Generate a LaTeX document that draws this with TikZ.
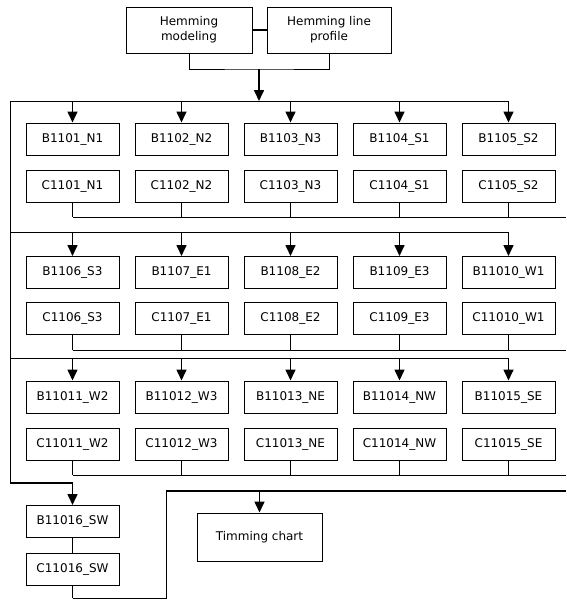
\documentclass[tikz,border=0pt]{standalone}
\usepackage{fontspec}
\setmainfont{DejaVu Sans}
\usetikzlibrary{arrows.meta}
\begin{document}
\begin{tikzpicture}[x=1pt,y=-1pt,
  box/.style={draw, line width=1pt, minimum width=93pt, minimum height=32pt, inner sep=0pt, font=\fontsize{12}{14}\selectfont},
  bigbox/.style={draw, line width=1pt, inner sep=0pt, align=center, font=\fontsize{12}{15}\selectfont},
  wire/.style={line width=1pt},
  arr/.style={line width=1.6pt, -{Triangle[width=10pt,length=11pt]}}]
\useasboundingbox (0,0) rectangle (566,600);
% top boxes
\node[bigbox, minimum width=126pt, minimum height=46pt] (hm) at (189,30) {Hemming\\modeling};
\node[bigbox, minimum width=124pt, minimum height=46pt] (hp) at (329,30) {Hemming line\\profile};
\draw[line width=2.2pt] (hm.east) -- (hp.west);
\coordinate (jt) at (259,69);
\coordinate (d1c) at (259,101);
\draw[wire] (hm.south) |- (jt) -| (hp.south);
\draw[arr] (jt) -- (d1c);
% columns
\foreach \i/\x/\b/\c in {1/72.5/B1101\_N1/C1101\_N1, 2/181.5/B1102\_N2/C1102\_N2, 3/290.5/B1103\_N3/C1103\_N3, 4/399.5/B1104\_S1/C1104\_S1, 5/508.5/B1105\_S2/C1105\_S2}{
  \node[box] (b1\i) at (\x,139) {\b};
  \node[box] (c1\i) at (\x,186) {\c};
}
\foreach \i/\x/\b/\c in {1/72.5/B1106\_S3/C1106\_S3, 2/181.5/B1107\_E1/C1107\_E1, 3/290.5/B1108\_E2/C1108\_E2, 4/399.5/B1109\_E3/C1109\_E3, 5/508.5/B11010\_W1/C11010\_W1}{
  \node[box] (b2\i) at (\x,272.5) {\b};
  \node[box] (c2\i) at (\x,318.5) {\c};
}
\foreach \i/\x/\b/\c in {1/72.5/B11011\_W2/C11011\_W2, 2/181.5/B11012\_W3/C11012\_W3, 3/290.5/B11013\_NE/C11013\_NE, 4/399.5/B11014\_NW/C11014\_NW, 5/508.5/B11015\_SE/C11015\_SE}{
  \node[box] (b3\i) at (\x,397) {\b};
  \node[box] (c3\i) at (\x,444) {\c};
}
\node[box] (b16) at (72.5,521.5) {B11016\_SW};
\node[box] (c16) at (72.5,569) {C11016\_SW};
\node[bigbox, minimum width=125pt, minimum height=48pt] (tc) at (259.5,537) {Timming chart};
% distributor / collector coordinates
\coordinate (L1) at (10,101);
\coordinate (L2) at (10,232);
\coordinate (L3) at (10,358);
\coordinate (L4) at (10,483);
\coordinate (K1) at (566,217);
\coordinate (K2) at (566,350);
\coordinate (K3) at (566,475);
\coordinate (bl) at (72.5,598);
\coordinate (br) at (166,598);
\coordinate (tl) at (166,491);
\coordinate (tr) at (566,491);
% left spine
\draw[wire] (L1) -- (b15.north |- L1);
\draw[wire] (L1) -- (L4);
\draw[arr] (L4) -| (b16.north);
\draw[wire] (L2) -- (b25.north |- L2);
\draw[wire] (L3) -- (b35.north |- L3);
% row arrows and collectors
\foreach \r/\L/\K in {1/L1/K1, 2/L2/K2, 3/L3/K3}{
  \foreach \i in {1,...,5}{
    \draw[arr] (b\r\i.north |- \L) -- (b\r\i.north);
    \draw[wire] (c\r\i.south) -- (c\r\i.south |- \K);
  }
  \draw[wire] (c\r1.south |- \K) -- (\K);
}
% bottom
\draw[line width=1.6pt] (b16.south) -- (c16.north);
\draw[line width=1.6pt] (c16.south) -- (bl);
\draw[wire] (bl) -- (br) -- (tl);
\draw[line width=1.6pt] (tl) -- (tr);
\draw[arr] (tc.north |- tl) -- (tc.north);
\end{tikzpicture}
\end{document}
